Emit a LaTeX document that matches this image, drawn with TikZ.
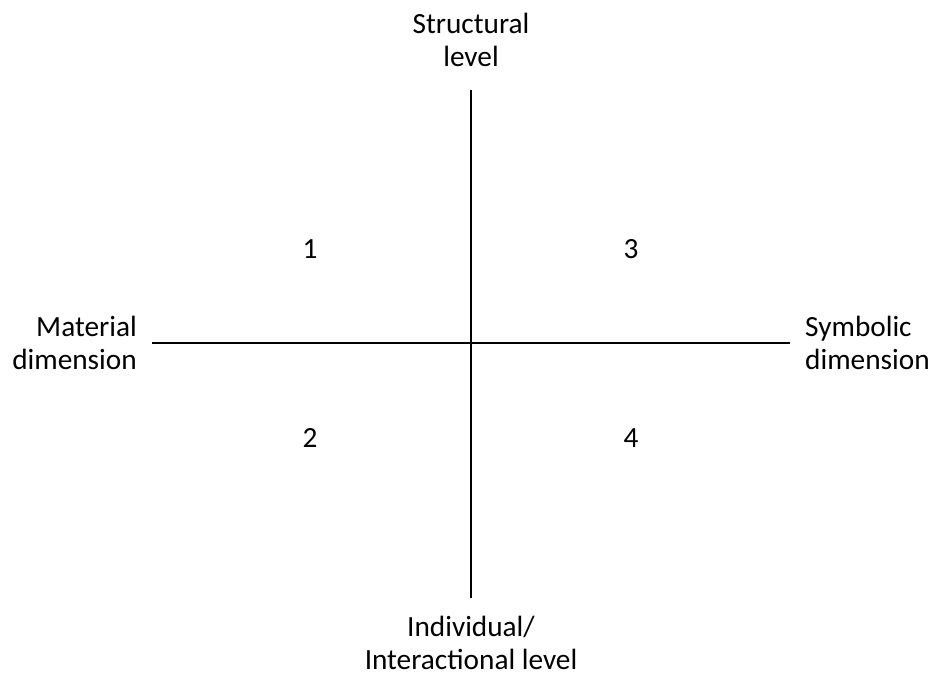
\documentclass[tikz,border=0pt]{standalone}
\usepackage{fontspec}
\setmainfont{Carlito}
\usetikzlibrary{positioning}

\begin{document}
\begin{tikzpicture}[
    x=0.03cm, y=-0.03cm,
    axis/.style={line width=2pt},
    axislabel/.style={inner sep=0pt, font=\fontsize{25}{28}\selectfont},
    quadrant/.style={inner sep=0pt, font=\fontsize{25}{28}\selectfont}
]
\useasboundingbox (0,0) rectangle (932,675);
% ends of the two axes
\coordinate (strend) at (471,90);
\coordinate (indend) at (471,598);
\coordinate (matend) at (152,343);
\coordinate (symend) at (790,343);

\draw[axis] (strend) -- (indend);
\draw[axis] (matend) -- (symend);

\node[axislabel, align=center, above=7mm of strend] (structural) {Structural\\level};
\node[axislabel, align=center, below=5.4mm of indend] (individual) {Individual/\\Interactional level};
\node[axislabel, align=right, left=4.5mm of matend] (material) {Material\\dimension};
\node[axislabel, align=left, right=4.5mm of symend] (symbolic) {Symbolic\\dimension};

% quadrants
\node[quadrant] (q1) at (310,249) {1};
\node[quadrant] (q2) at (310,438) {2};
\node[quadrant] (q3) at (631,249) {3};
\node[quadrant] (q4) at (631,438) {4};
\end{tikzpicture}
\end{document}
